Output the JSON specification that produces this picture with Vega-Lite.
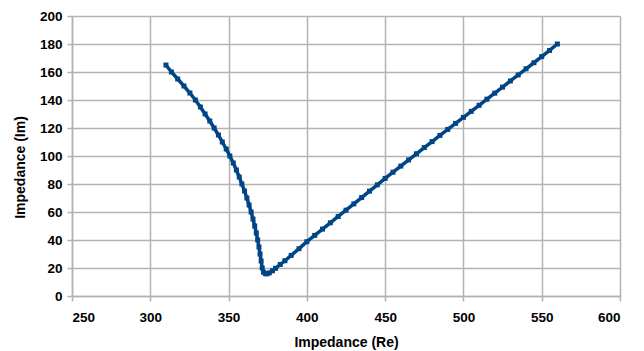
{
  "$schema": "https://vega.github.io/schema/vega-lite/v6.json",
  "width": 548,
  "height": 280,
  "autosize": {"type": "none"},
  "padding": {"left": 72, "top": 16, "right": 24, "bottom": 55},
  "background": "white",
  "config": {
    "view": {"stroke": null},
    "axis": {
      "gridColor": "#b3b3b3",
      "gridWidth": 1.5,
      "domainColor": "#b3b3b3",
      "domainWidth": 1.5,
      "tickColor": "#b3b3b3",
      "tickWidth": 1.5,
      "tickSize": 5,
      "labelFont": "Liberation Sans",
      "labelFontSize": 13.5,
      "labelFontWeight": "bold",
      "labelColor": "#000000",
      "titleFont": "Liberation Sans",
      "titleFontSize": 14,
      "titleFontWeight": "bold",
      "titleColor": "#000000"
    }
  },
  "data": {
    "values": [
      {"re": 310, "im": 165},
      {"re": 313.5, "im": 160},
      {"re": 317.5, "im": 155},
      {"re": 321.5, "im": 150},
      {"re": 325.3, "im": 145},
      {"re": 328.8, "im": 140},
      {"re": 332, "im": 135},
      {"re": 335, "im": 130},
      {"re": 338, "im": 125},
      {"re": 340.8, "im": 120},
      {"re": 343.5, "im": 115},
      {"re": 346, "im": 110},
      {"re": 348.5, "im": 105},
      {"re": 350.8, "im": 100},
      {"re": 353, "im": 95},
      {"re": 355, "im": 90},
      {"re": 356.8, "im": 85},
      {"re": 358.5, "im": 80},
      {"re": 360.2, "im": 75},
      {"re": 361.7, "im": 70},
      {"re": 363.1, "im": 65},
      {"re": 364.4, "im": 60},
      {"re": 365.6, "im": 55},
      {"re": 366.7, "im": 50},
      {"re": 367.7, "im": 45},
      {"re": 368.6, "im": 40},
      {"re": 369.4, "im": 35},
      {"re": 370.1, "im": 30},
      {"re": 370.8, "im": 25},
      {"re": 371.5, "im": 20},
      {"re": 372.3, "im": 17},
      {"re": 373.5, "im": 16},
      {"re": 374.5, "im": 15.8},
      {"re": 376, "im": 16.5},
      {"re": 378, "im": 18},
      {"re": 380, "im": 19.8},
      {"re": 383, "im": 22.5},
      {"re": 386, "im": 25.2},
      {"re": 390, "im": 29},
      {"re": 395, "im": 33.8},
      {"re": 400, "im": 38.8},
      {"re": 405, "im": 43.3},
      {"re": 410, "im": 47.8},
      {"re": 415, "im": 52.3},
      {"re": 420, "im": 56.8},
      {"re": 425, "im": 61.3},
      {"re": 430, "im": 65.8},
      {"re": 435, "im": 70.3},
      {"re": 440, "im": 74.9},
      {"re": 445, "im": 79.4},
      {"re": 450, "im": 84},
      {"re": 455, "im": 88.4},
      {"re": 460, "im": 92.8},
      {"re": 465, "im": 97.2},
      {"re": 470, "im": 101.6},
      {"re": 475, "im": 106},
      {"re": 480, "im": 110.3},
      {"re": 485, "im": 114.7},
      {"re": 490, "im": 119},
      {"re": 495, "im": 123.3},
      {"re": 500, "im": 127.6},
      {"re": 505, "im": 131.9},
      {"re": 510, "im": 136.2},
      {"re": 515, "im": 140.6},
      {"re": 520, "im": 144.9},
      {"re": 525, "im": 149.2},
      {"re": 530, "im": 153.6},
      {"re": 535, "im": 157.9},
      {"re": 540, "im": 162.3},
      {"re": 545, "im": 166.6},
      {"re": 550, "im": 171},
      {"re": 555, "im": 175.4},
      {"re": 560, "im": 180}
    ]
  },
  "mark": {
    "type": "line",
    "color": "#004586",
    "strokeWidth": 3.5,
    "point": {"shape": "square", "size": 25, "filled": true, "color": "#004586"}
  },
  "encoding": {
    "x": {
      "field": "re",
      "type": "quantitative",
      "scale": {"domain": [250, 600], "nice": false, "zero": false},
      "axis": {
        "values": [250, 300, 350, 400, 450, 500, 550, 600],
        "title": "Impedance (Re)",
        "labelPadding": 9,
        "titlePadding": 12
      }
    },
    "y": {
      "field": "im",
      "type": "quantitative",
      "scale": {"domain": [0, 200], "nice": false},
      "axis": {
        "values": [0, 20, 40, 60, 80, 100, 120, 140, 160, 180, 200],
        "title": "Impedance (Im)",
        "labelPadding": 5,
        "titleX": -52,
        "titleY": 151,
        "titleAngle": -90,
        "titleAlign": "center",
        "titleBaseline": "middle"
      }
    }
  }
}
